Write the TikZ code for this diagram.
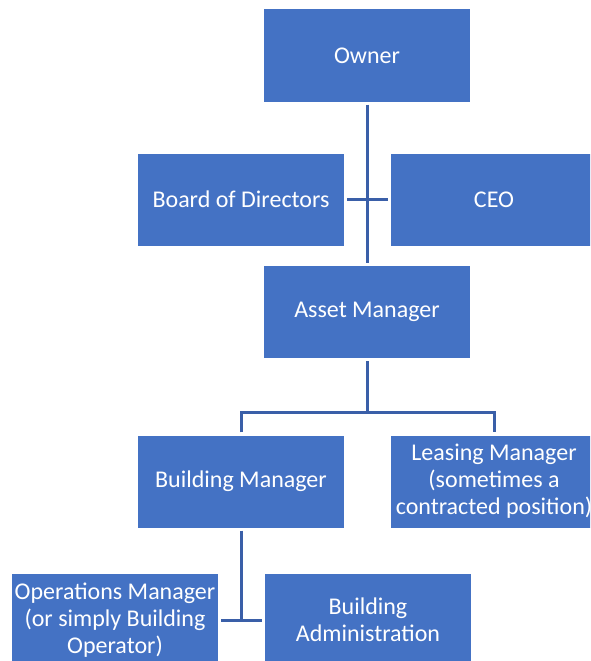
\documentclass[tikz,border=0pt]{standalone}
\usepackage{fontspec}
\setmainfont{Carlito}
\definecolor{boxblue}{HTML}{4472C4}
\definecolor{lineblue}{HTML}{3A5FA8}
\begin{document}
\begin{tikzpicture}[x=1pt,y=-1pt,
  box/.style={fill=boxblue, text=white, minimum width=206pt, minimum height=92pt,
    inner sep=0pt, align=center, font=\fontsize{24}{27}\selectfont},
  link/.style={draw=lineblue, line width=3pt, shorten <=3pt, shorten >=3pt}]
\useasboundingbox (0,0) rectangle (590,661);
\clip (0,0) rectangle (590,661);
% boxes
\node[box] (owner) at (367,55.5) {Owner};
\node[box] (board) at (241,199.5) {Board of Directors};
\node[box] (ceo)   at (494,199.5) {CEO};
\node[box] (asset) at (367,312) {Asset Manager};
\node[box] (bm)    at (241,481.5) {Building Manager};
\node[box] (lm)    at (494,481.5) {Leasing Manager\\(sometimes a\\contracted position)};
\node[box] (ops)   at (115,620) {Operations Manager\\(or simply Building\\Operator)};
\node[box] (ba)    at (368,620) {Building\\Administration};
% connectors
\draw[link] (owner) -- (asset);
\draw[link] (board) -- (ceo);
\coordinate (split) at (367,412);
\draw[link, shorten >=0pt] (asset) -- (split);
\draw[link] (bm.north) |- (split) -| (lm.north);
\draw[link, shorten >=0pt] (bm.south) -- (bm.south |- ops.east);
\draw[link] (ops.east) -- (ba.west);
\end{tikzpicture}
\end{document}
